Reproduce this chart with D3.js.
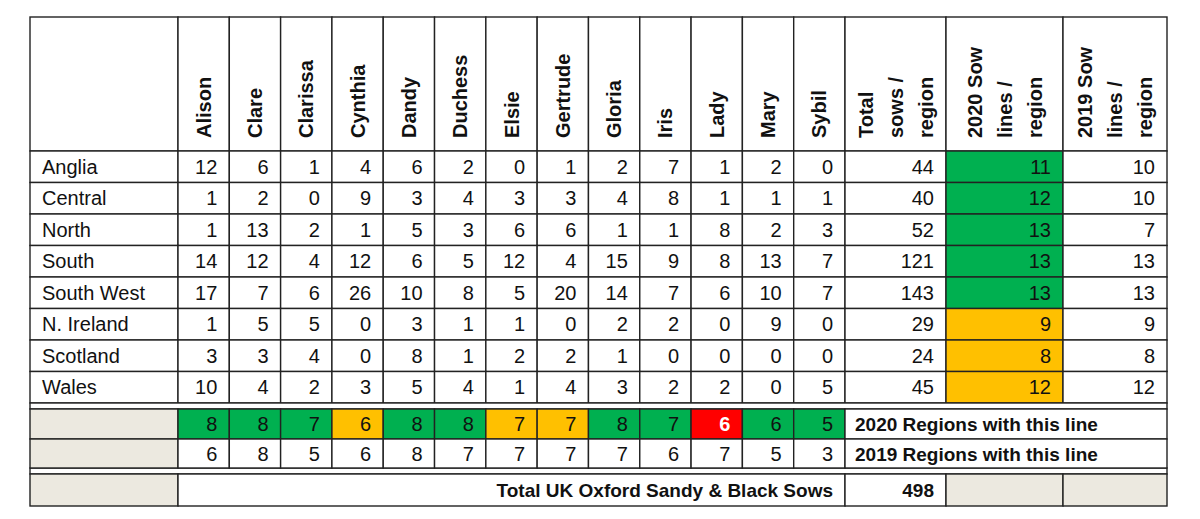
<!DOCTYPE html>
<html><head><meta charset="utf-8">
<script src="https://cdn.jsdelivr.net/npm/d3@7"></script>
<style>body{margin:0;background:#fff}svg{font-family:"Liberation Sans",Arial,sans-serif}</style>
</head><body><svg width="1200" height="519"></svg>
<script>
const sows = ["Alison","Clare","Clarissa","Cynthia","Dandy","Duchess","Elsie","Gertrude","Gloria","Iris","Lady","Mary","Sybil"]
const regions = ["Anglia","Central","North","South","South West","N. Ireland","Scotland","Wales"]
const counts = [
  [12,6,1,4,6,2,0,1,2,7,1,2,0],
  [1,2,0,9,3,4,3,3,4,8,1,1,1],
  [1,13,2,1,5,3,6,6,1,1,8,2,3],
  [14,12,4,12,6,5,12,4,15,9,8,13,7],
  [17,7,6,26,10,8,5,20,14,7,6,10,7],
  [1,5,5,0,3,1,1,0,2,2,0,9,0],
  [3,3,4,0,8,1,2,2,1,0,0,0,0],
  [10,4,2,3,5,4,1,4,3,2,2,0,5]
]
const totals = [44,40,52,121,143,29,24,45]
const lines2020 = [11,12,13,13,13,9,8,12]
const lines2019 = [10,10,7,13,13,9,8,12]
const regions2020 = [8,8,7,6,8,8,7,7,8,7,6,6,5]
const regions2019 = [6,8,5,6,8,7,7,7,7,6,7,5,3]
const grandTotal = 498
const extraHeads = [["Total","sows /","region"],["2020 Sow","lines /","region"],["2019 Sow","lines /","region"]]

const GREEN = "#00b050", ORANGE = "#ffc000", RED = "#ff0000", GREY = "#ece9e0"
const colors2020 = [GREEN,GREEN,GREEN,ORANGE,GREEN,GREEN,ORANGE,ORANGE,GREEN,GREEN,RED,GREEN,GREEN]
const svg = d3.select("svg")
const x0 = 30, xLab = 178, xSow = 845
const x = d3.scaleBand().domain(sows).range([xLab, xSow])
const xe = d3.scaleOrdinal().domain([0,1,2,3]).range([xSow, 946, 1063, 1167])
const y = d3.scaleBand().domain(regions).range([151, 403])
const yTop = 17, r2020 = [409, 439], r2019 = [439, 468], rTot = [474, 506]

function cell(x1, y1, w, h, fill) {
  svg.append("rect").attr("x", x1).attr("y", y1).attr("width", w).attr("height", h)
    .attr("fill", fill || "#fff").attr("stroke", "#222").attr("stroke-width", 1.4)
}
function txt(tx, ty, s, anchor, opts) {
  opts = opts || {}
  return svg.append("text").attr("x", tx).attr("y", ty).attr("text-anchor", anchor)
    .attr("font-size", opts.size || 20).attr("font-weight", opts.bold ? "bold" : "normal")
    .attr("fill", opts.fill || "#111").text(s)
}

// header
cell(x0, yTop, xLab - x0, 151 - yTop)
sows.forEach(s => {
  cell(x(s), yTop, x.bandwidth(), 151 - yTop)
  txt(0, 0, s, "start", {bold: true})
    .attr("transform", `translate(${x(s) + x.bandwidth()/2 + 7},138) rotate(-90)`)
})
extraHeads.forEach((h, j) => {
  const a = xe(j), b = xe(j + 1)
  cell(a, yTop, b - a, 151 - yTop)
  h.forEach((l, k) => {
    txt(0, 0, l, "start", {bold: true})
      .attr("transform", `translate(${(a+b)/2 + (k-1)*30 + 7},138) rotate(-90)`)
  })
})

// body
regions.forEach((r, i) => {
  const yy = y(r), h = y.bandwidth(), base = yy + h/2 + 7
  cell(x0, yy, xLab - x0, h); txt(42, base, r, "start")
  sows.forEach((s, j) => {
    cell(x(s), yy, x.bandwidth(), h)
    txt(x(s) + x.bandwidth() - 12, base, counts[i][j], "end")
  })
  const vals = [totals[i], lines2020[i], lines2019[i]]
  vals.forEach((v, j) => {
    const a = xe(j), b = xe(j + 1)
    cell(a, yy, b - a, h, j === 1 ? (i < 5 ? GREEN : ORANGE) : "#fff")
    txt(b - 12, base, v, "end")
  })
})

// double separators
;[[403, 409], [468, 474]].forEach(([a, b]) => cell(x0, a, xe(3) - x0, b - a))

// regions rows
function regRow(vals, rr, colorFn, label) {
  const h = rr[1] - rr[0], base = rr[0] + h/2 + 7
  cell(x0, rr[0], xLab - x0, h, GREY)
  sows.forEach((s, j) => {
    const c = colorFn(j)
    cell(x(s), rr[0], x.bandwidth(), h, c)
    txt(x(s) + x.bandwidth() - 12, base, vals[j], "end",
      {fill: c === RED ? "#fff" : "#111", bold: c === RED})
  })
  cell(xe(0), rr[0], xe(3) - xe(0), h)
  txt(xe(0) + 10, base, label, "start", {bold: true, size: 19})
}
regRow(regions2020, r2020, j => colors2020[j], "2020 Regions with this line")
regRow(regions2019, r2019, j => "#fff", "2019 Regions with this line")

// total row
const th = rTot[1] - rTot[0], tb = rTot[0] + th/2 + 7
cell(x0, rTot[0], xLab - x0, th, GREY)
cell(xLab, rTot[0], xSow - xLab, th)
txt(xSow - 12, tb, "Total UK Oxford Sandy & Black Sows", "end", {bold: true, size: 19})
cell(xe(0), rTot[0], xe(1) - xe(0), th)
txt(xe(1) - 12, tb, grandTotal, "end", {bold: true, size: 19})
cell(xe(1), rTot[0], xe(2) - xe(1), th, GREY)
cell(xe(2), rTot[0], xe(3) - xe(2), th, GREY)
</script></body></html>
